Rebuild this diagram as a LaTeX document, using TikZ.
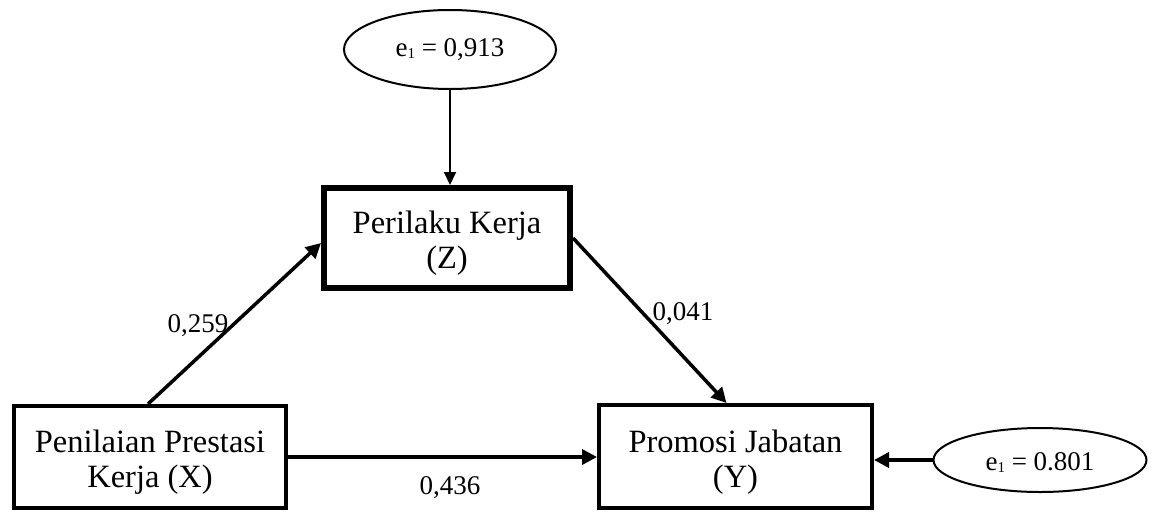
\documentclass[tikz,border=0pt]{standalone}
\usepackage{fontspec}
\setmainfont{Liberation Serif}
\usetikzlibrary{shapes.geometric,arrows.meta,calc}
\newcommand{\vst}[2][0pt]{\raisebox{#1}[\height][\depth]{#2}}
\newcommand{\twol}[2]{\setlength{\tabcolsep}{0pt}\begin{tabular}{c}#1\\#2\end{tabular}}
\tikzset{
  box/.style={draw, rectangle, inner sep=0pt, align=center, font=\fontsize{32.5}{35}\selectfont},
  err/.style={draw, ellipse, line width=2pt, inner sep=0pt, font=\fontsize{27}{30}\selectfont},
  conn/.style={line width=3.5pt, -{Triangle[length=15pt,width=15pt]}},
  thin conn/.style={line width=2pt, -{Triangle[length=13pt,width=12pt]}},
  lbl/.style={font=\fontsize{27}{30}\selectfont, inner sep=0pt}
}
\newcommand{\esub}{e\raisebox{-2pt}{\fontsize{15}{15}\selectfont 1}}
\begin{document}
\begin{tikzpicture}[x=1pt,y=-1pt]
\useasboundingbox (0,0) rectangle (1155,512);
\node[box, line width=4pt, minimum width=272pt, minimum height=102pt] (X) at (150,457) {\vst[-6pt]{\twol{Penilaian Prestasi}{Kerja (X)}}};
\node[box, line width=6pt, minimum width=246pt, minimum height=100pt] (Z) at (447,238) {\vst[-6pt]{\twol{Perilaku Kerja}{(Z)}}};
\node[box, line width=4pt, minimum width=273pt, minimum height=103pt] (Y) at (735.5,456.5) {\vst[-6pt]{\twol{Promosi Jabatan}{(Y)}}};
\node[err, minimum width=212pt, minimum height=79pt] (E1) at (450,49.5) {\vst{\esub{} = 0,913}};
\node[err, minimum width=213pt, minimum height=64pt] (E2) at (1040,460) {\vst[-3pt]{\esub{} = 0.801}};
\draw[thin conn] (E1.south) -- (E1.south |- Z.north);
\draw[conn] ($(X.north)+(-2,0)$) -- ($(Z.west)+(0,5)$);
\draw[conn] (Z.east) -- ($(Y.north)+(-9,0)$);
\draw[conn] (X.east) -- (X.east -| Y.west);
\draw[conn] (E2.west) -- (E2.west -| Y.east);
\node[lbl] (l1) at (198,326) {0,259};
\node[lbl] (l2) at (683,314) {0,041};
\node[lbl] (l3) at (450,488) {0,436};
\end{tikzpicture}
\end{document}
